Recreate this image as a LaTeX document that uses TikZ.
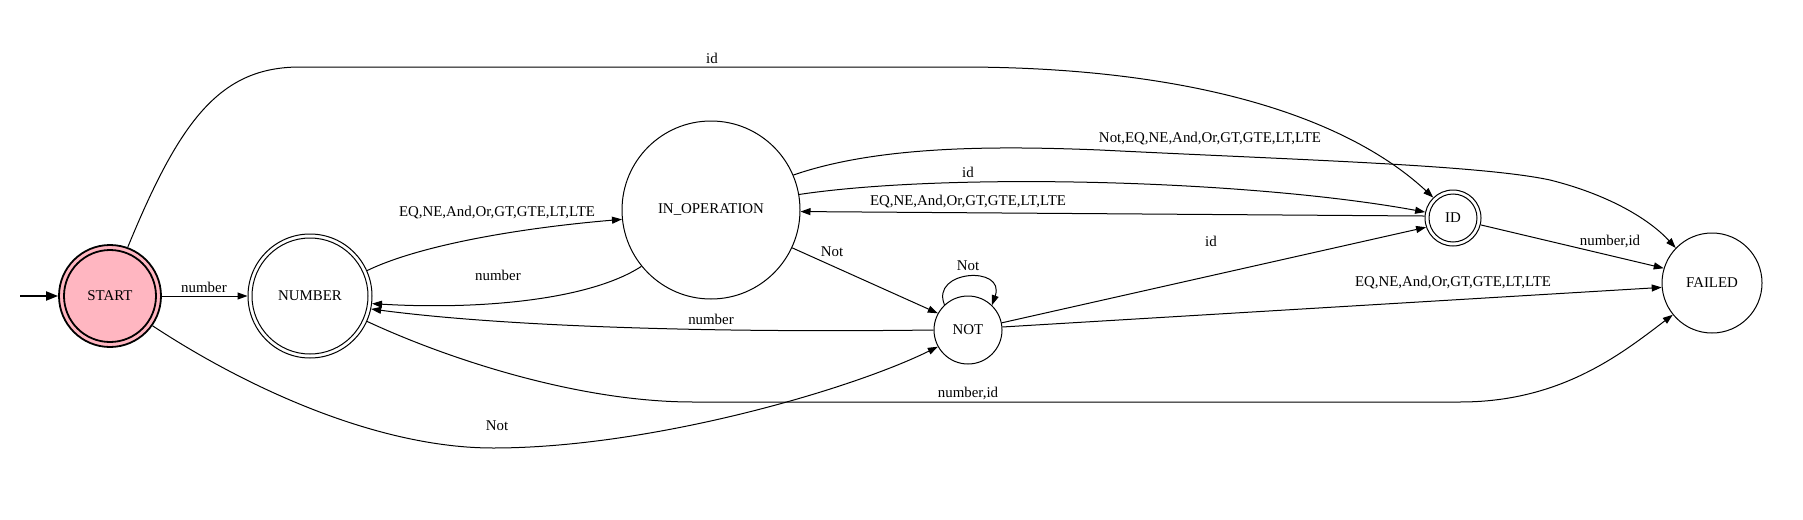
\documentclass[tikz,border=0pt]{standalone}
\usepackage{fontspec}
\setmainfont{Liberation Serif}
\usetikzlibrary{arrows.meta}
\definecolor{lpink}{HTML}{FFB6C1}
\begin{document}
\begin{tikzpicture}[x=1pt,y=-1pt,
  every node/.style={font=\fontsize{14.9}{18}\selectfont},
  state/.style={circle,draw,line width=1pt,inner sep=0pt},
  edge/.style={line width=1pt,-{Triangle[length=10pt,width=7pt]}},
  lbl/.style={inner sep=0pt}]
\useasboundingbox (0,0) rectangle (1803,519);

% states
\node[state,minimum size=102pt,fill=lpink,line width=1.8pt] (start) at (110,296) {START};
\draw[line width=1.8pt] (start.center) circle[radius=46pt];
\node[state,minimum size=124pt] (number) at (310,296) {NUMBER};
\draw[line width=1pt] (number.center) circle[radius=58pt];
\node[state,minimum size=178pt] (inop) at (711,210) {IN\_OPERATION};
\node[state,minimum size=68pt] (not) at (968,330) {NOT};
\node[state,minimum size=56pt] (id) at (1453,218) {ID};
\draw[line width=1pt] (id.center) circle[radius=24pt];
\node[state,minimum size=100pt] (failed) at (1712,283) {FAILED};

% initial arrow
\coordinate (init) at (20,296);
\draw[line width=2pt,-{Triangle[length=12pt,width=9pt]}] (init) -- (start.west);

% edges
\draw[edge] (start.east) -- (number.west);
\node[lbl] (l1) at (204,287) {number};

\draw[edge] (start.70) .. controls (180,120) and (220,67) .. (300,67) -- (960,67) .. controls (1200,67) and (1350,120) .. (id.134);
\node[lbl] (l2) at (712,58) {id};

\draw[edge] (inop.23) .. controls (880,145) and (1000,146) .. (1100,150) .. controls (1300,160) and (1480,165) .. (1550,180) .. controls (1610,195) and (1650,220) .. (failed.136);
\node[lbl] (l3) at (1210,139) {Not,EQ,NE,And,Or,GT,GTE,LT,LTE};

\draw[edge] (inop.10) .. controls (950,172) and (1250,180) .. (id.168);
\node[lbl] (l4) at (968,172) {id};

\draw[edge] (id.176) -- (inop.-1);
\node[lbl] (l5) at (968,202) {EQ,NE,And,Or,GT,GTE,LT,LTE};

\draw[edge] (inop.-25) -- (not.151);
\node[lbl] (l6) at (832,252) {Not};

\draw[edge] (inop.219) .. controls (590,300) and (480,310) .. (number.-7);
\node[lbl] (l7) at (498,275) {number};

\draw[edge] (number.24) .. controls (420,245) and (520,228) .. (inop.186);
\node[lbl] (l8) at (497,213) {EQ,NE,And,Or,GT,GTE,LT,LTE};

\draw[edge] (not.180) .. controls (700,333) and (500,326) .. (number.-12);
\node[lbl] (l9) at (711,319) {number};

\draw[edge] (not.133) .. controls (930,270) and (1006,265) .. (not.46);
\node[lbl] (l10) at (968,266) {Not};

\draw[edge] (not.12) -- (id.199);
\node[lbl] (l11) at (1211,241) {id};

\draw[edge] (not.5) -- (failed.185);
\node[lbl] (l12) at (1453,283) {EQ,NE,And,Or,GT,GTE,LT,LTE};

\draw[edge] (id.-14) -- (failed.163);
\node[lbl] (l13) at (1610,241) {number,id};

\draw[edge] (number.-24) .. controls (450,360) and (580,402) .. (693,402) -- (1460,402) .. controls (1560,402) and (1620,355) .. (failed.219);
\node[lbl] (l14) at (968,393) {number,id};

\draw[edge] (start.-35) .. controls (250,390) and (380,448) .. (493,448) .. controls (650,448) and (850,390) .. (not.209);
\node[lbl] (l15) at (497,426) {Not};
\end{tikzpicture}
\end{document}
